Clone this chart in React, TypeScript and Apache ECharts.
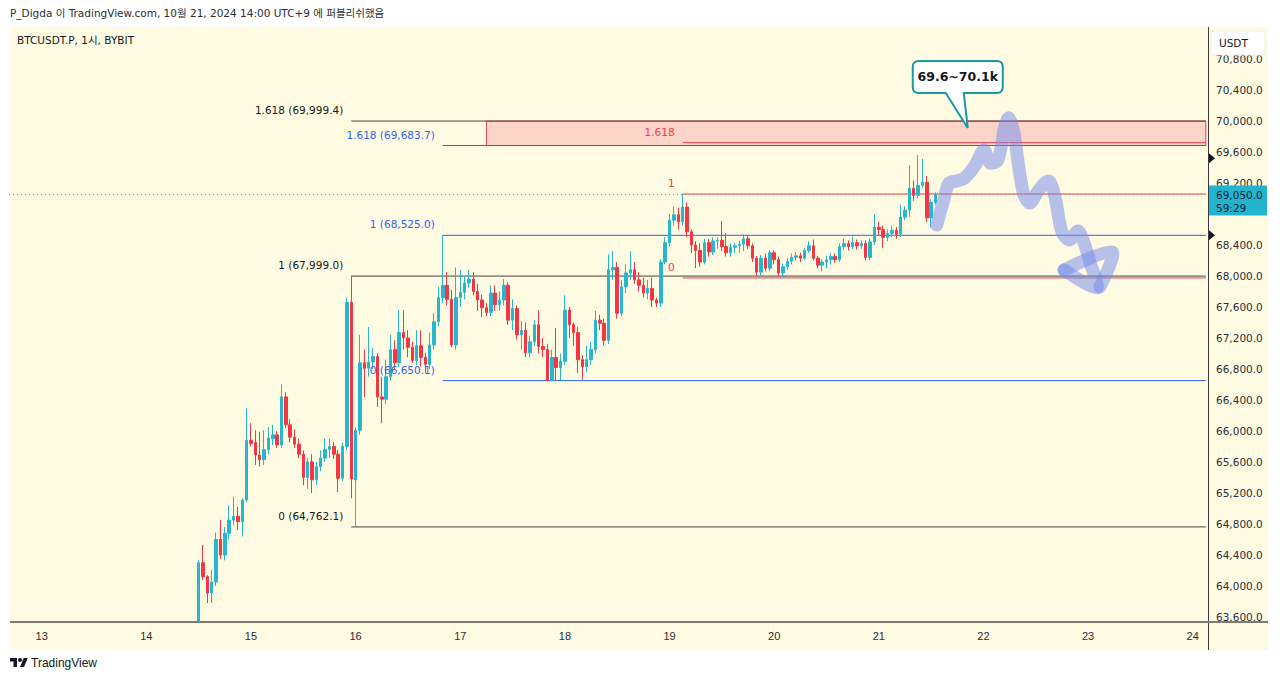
import React, { useEffect, useRef } from "react";
import * as echarts from "echarts";

// ---------- data ----------
// hours are counted from Oct 13 00:00 (UTC+9)
const START_HOUR = -7;
const END_HOUR = 267;
const FIRST_CANDLE_HOUR = 36;

// [open, close, low, high]
const oct14 = [
  [63540, 64300, 63540, 64330], [64300, 64120, 64080, 64530], [64120, 63910, 63780, 64140],
  [63910, 64050, 63780, 64210], [64050, 64600, 64000, 64690], [64600, 64400, 64350, 64850],
  [64400, 64680, 64330, 64760], [64680, 64850, 64600, 65040], [64850, 64900, 64780, 65150],
  [64900, 64830, 64720, 65020], [64830, 65110, 64640, 65130], [65110, 65880, 65080, 66290],
];
const oct15 = [
  [65880, 65840, 65800, 66100], [65850, 65690, 65560, 66010], [65690, 65630, 65540, 65990],
  [65630, 65760, 65560, 66010], [65760, 65910, 65700, 66050], [65900, 65950, 65820, 66080],
  [65950, 65820, 65780, 66000], [65820, 66440, 65780, 66600], [66440, 66080, 66040, 66500],
  [66080, 65920, 65850, 66150], [65920, 65830, 65780, 66020], [65830, 65700, 65650, 65900],
  [65700, 65400, 65300, 65750], [65400, 65600, 65250, 65650], [65600, 65370, 65200, 65700],
  [65370, 65540, 65300, 65600], [65540, 65650, 65480, 65750], [65650, 65760, 65600, 65900],
  [65760, 65800, 65650, 65900], [65800, 65700, 65640, 65860], [65700, 65390, 65210, 65760],
  [65390, 65800, 65350, 65850], [65800, 67660, 65750, 67720], [67660, 65380, 65130, 67999],
];
const oct16 = [
  [65370, 66010, 64762.1, 66050], [66010, 66880, 65950, 67240], [66880, 66810, 66440, 67050],
  [66810, 66890, 66700, 67340], [66890, 66960, 66800, 67070], [66960, 66440, 66310, 67000],
  [66440, 66410, 66100, 66700], [66410, 66700, 66350, 66920], [66700, 67050, 66650, 67240],
  [67050, 66880, 66800, 67170], [66880, 67270, 66820, 67560], [67270, 67200, 67050, 67560],
  [67200, 67080, 66950, 67300], [67080, 66910, 66880, 67150], [66910, 67100, 66850, 67300],
  [67100, 66950, 66830, 67300], [66950, 66860, 66750, 67010], [66860, 67110, 66800, 67270],
  [67110, 67410, 67050, 67520], [67410, 67720, 67350, 67860], [67720, 67880, 67650, 68525],
  [67880, 67700, 67620, 68050], [67700, 67110, 67080, 67820], [67110, 67720, 67050, 68110],
];
const oct17 = [
  [67720, 67790, 67600, 68080], [67790, 67910, 67700, 68000], [67910, 67960, 67850, 68080],
  [67960, 67800, 67750, 68050], [67800, 67690, 67550, 67900], [67690, 67590, 67470, 67760],
  [67590, 67530, 67480, 67650], [67530, 67780, 67480, 67880], [67780, 67630, 67550, 67880],
  [67630, 67690, 67550, 67800], [67690, 67880, 67620, 67960], [67880, 67430, 67370, 67920],
  [67430, 67580, 67300, 67700], [67580, 67240, 67180, 67620], [67240, 67300, 67050, 67420],
  [67300, 67010, 66950, 67400], [67010, 67150, 66950, 67230], [67150, 67370, 67100, 67430],
  [67370, 67090, 67000, 67560], [67090, 67050, 66950, 67200], [67050, 66650, 66640, 67120],
  [66650, 66950, 66640, 67050], [66950, 66820, 66650, 67330], [66820, 66900, 66650, 67000],
];
const oct18 = [
  [66900, 67560, 66850, 67750], [67560, 67370, 67200, 67600], [67370, 67270, 67100, 67400],
  [67270, 66920, 66750, 67340], [66920, 66830, 66660, 66980], [66830, 66920, 66760, 67100],
  [66920, 67050, 66850, 67150], [67050, 67430, 67000, 67550], [67430, 67390, 67300, 67500],
  [67390, 67170, 67100, 67450], [67170, 68080, 67120, 68280], [68080, 68110, 67950, 68320],
  [68110, 67520, 67450, 68180], [67520, 67860, 67480, 67950], [67860, 68040, 67780, 68150],
  [68040, 68080, 67950, 68320], [68080, 67950, 67900, 68180], [67950, 67880, 67800, 68050],
  [67880, 67780, 67720, 67980], [67780, 67840, 67700, 67950], [67840, 67690, 67600, 67980],
  [67690, 67650, 67600, 67720], [67650, 68180, 67600, 68220], [68180, 68430, 68150, 68500],
];
const oct19 = [
  [68430, 68720, 68380, 68800], [68720, 68790, 68650, 68900], [68790, 68700, 68600, 68880],
  [68700, 68890, 68650, 69060], [68890, 68570, 68500, 68950], [68570, 68400, 68300, 68600],
  [68400, 68330, 68100, 68450], [68330, 68180, 68120, 68420], [68180, 68430, 68150, 68480],
  [68430, 68310, 68250, 68480], [68310, 68450, 68270, 68500], [68450, 68460, 68350, 68500],
  [68460, 68380, 68320, 68710], [68380, 68300, 68250, 68550], [68300, 68370, 68250, 68420],
  [68370, 68390, 68300, 68430], [68390, 68410, 68300, 68450], [68410, 68480, 68320, 68540],
  [68480, 68390, 68350, 68520], [68390, 68230, 68180, 68420], [68230, 68050, 68000, 68260],
  [68050, 68230, 68010, 68270], [68230, 68100, 68060, 68290], [68100, 68300, 68060, 68330],
];
const oct20 = [
  [68300, 68210, 68150, 68330], [68210, 68040, 67990, 68250], [68040, 68120, 67990, 68160],
  [68120, 68190, 68080, 68230], [68190, 68240, 68150, 68290], [68240, 68260, 68200, 68310],
  [68260, 68230, 68180, 68300], [68230, 68330, 68200, 68360], [68330, 68390, 68300, 68450],
  [68390, 68230, 68200, 68470], [68230, 68140, 68100, 68260], [68140, 68180, 68060, 68220],
  [68180, 68210, 68100, 68260], [68210, 68250, 68150, 68300], [68250, 68210, 68170, 68290],
  [68210, 68380, 68180, 68420], [68380, 68420, 68330, 68480], [68420, 68380, 68330, 68460],
  [68380, 68430, 68350, 68510], [68430, 68390, 68340, 68470], [68390, 68420, 68350, 68460],
  [68420, 68240, 68200, 68460], [68240, 68440, 68200, 68480], [68440, 68630, 68400, 68800],
];
const oct21 = [
  [68630, 68600, 68520, 68700], [68600, 68500, 68360, 68650], [68500, 68550, 68450, 68600],
  [68550, 68590, 68500, 68650], [68590, 68540, 68480, 68630], [68540, 68760, 68500, 68920],
  [68760, 68850, 68720, 68900], [68850, 69130, 68760, 69430], [69130, 69040, 68970, 69230],
  [69040, 69170, 69000, 69560], [69170, 69210, 69130, 69510], [69210, 68750, 68700, 69290],
  [68750, 68950, 68630, 68990], [68950, 69050, 68920, 69080],
];
const candles = [...oct14, ...oct15, ...oct16, ...oct17, ...oct18, ...oct19, ...oct20, ...oct21];

// 68,800.0 sits under the last-price tag in the reference, so it is not drawn
const priceTicks = [63600, 64000, 64400, 64800, 65200, 65600, 66000, 66400, 66800, 67200,
  67600, 68000, 68400, 69200, 69600, 70000, 70400, 70800];
const lastPrice = 69050.0;
const countdown = "59:29";

const blackFibLevels = [64762.1, 67999.0, 69999.4];
const blackFibNames = ["0", "1", "1.618"];
const blackFibStart = 71;
const blueFibLevels = [66650.1, 68525.0, 69683.7];
const blueFibNames = ["0", "1", "1.618"];
const blueFibStart = 92;
const redFibLevels = [67975.0, 69058.0, 69721.0];
const redFibNames = ["0", "1", "1.618"];
const redFibStart = 147;
const zoneStart = 102;
const zoneLow = 69683.7;
const zoneHigh = 69999.4;
const alertLevels = [69520, 68525];

// hand-drawn projection: [hour, price]
const projectionA = [
  [205.3, 68658], [206.9, 68981], [208.1, 69200], [209.9, 69226], [211.7, 69265],
  [214.0, 69420], [216.1, 69626], [217.5, 69458], [219.3, 69497], [220.9, 69923],
  [221.8, 70039], [223.0, 69845], [224.1, 69407], [225.3, 69045], [226.7, 68942],
  [228.7, 69110], [231.0, 69226], [232.4, 69020], [234.0, 68568], [235.8, 68465],
  [237.7, 68581], [239.1, 68426], [240.4, 68181], [242.0, 67846], [234.5, 68078],
];
const projectionB = [[234.5, 68078], [245.5, 68310], [242.7, 67859]];
const calloutTip = [212.4, 69910];
const calloutText = "69.6~70.1k";

// ---------- helpers ----------
const categories: string[] = [];
for (let h = START_HOUR; h <= END_HOUR; h++) {
  const d = new Date(Date.UTC(2024, 9, 13) + h * 3600000);
  categories.push(`${d.getUTCDate()}|${d.getUTCHours()}`);
}
const catOf = (h: number) => categories[h - START_HOUR];
const fmt = (v: number) =>
  v.toLocaleString("en-US", { minimumFractionDigits: 1, maximumFractionDigits: 1 });

const FONT = "'DejaVu Sans', 'Noto Sans CJK KR', sans-serif";
const UP = "#27b6cf";
const DOWN = "#f23645";
const BLACK_LINE = "#45443e";
const BLUE = "#2f62f0";
const RED = "#ef3e4f";

const CALLOUT_D = "M6 0H84Q90 0 90 6V26Q90 32 84 32H51L55 67L33 32H6Q0 32 0 26V6Q0 0 6 0Z";
const TV_D = "M14 22H7V11H0V4h14v18zM28 22h-8l7.5-18h8L28 22zM24 8a4 4 0 1 1-8 0a4 4 0 1 1 8 0z";
echarts.graphic.registerShape("callout", echarts.graphic.extendPath(CALLOUT_D, {}));
echarts.graphic.registerShape("tvlogo", echarts.graphic.extendPath(TV_D, {}));

function fibSeries(levels: number[], start: number, color: string) {
  return levels.map((lv) => ({
    type: "line",
    silent: true,
    symbol: "none",
    lineStyle: { color, width: 1 },
    data: [[catOf(start), lv], [catOf(END_HOUR), lv]],
    z: 1,
  }));
}

function txt(x: number, y: number, text: string, fill: string, size: number, align = "left", weight = "normal", family = FONT) {
  return {
    type: "text",
    x, y, z: 100, silent: true,
    style: {
      text, fill, fontSize: size, fontFamily: family, fontWeight: weight,
      align, verticalAlign: "middle", textAlign: align, textVerticalAlign: "middle",
    },
  };
}

export default function App() {
  const ref = useRef<HTMLDivElement>(null);
  useEffect(() => {
    const chart = echarts.init(ref.current!, null, { renderer: "svg" });
    const candleData = categories.map((_, i) => {
      const k = i + START_HOUR - FIRST_CANDLE_HOUR;
      return k >= 0 && k < candles.length ? candles[k] : "-";
    });
    const option: any = {
      animation: false,
      backgroundColor: "#ffffff",
      grid: { left: 9, right: 72, top: 27, bottom: 59 },
      xAxis: {
        type: "category",
        data: categories,
        boundaryGap: true,
        axisLine: { show: false },
        axisTick: { show: false },
        splitLine: { show: false },
        axisLabel: {
          interval: (_i: number, v: string) => v.endsWith("|0"),
          formatter: (v: string) => v.split("|")[0],
          color: "#2a2e39",
          fontSize: 11,
          fontFamily: "'Liberation Sans Narrow', 'Liberation Sans', sans-serif",
          margin: 8,
        },
      },
      yAxis: {
        type: "value",
        position: "right",
        min: 63535,
        max: 71213,
        splitLine: { show: false },
        axisLine: { show: false },
        axisTick: { show: false },
        axisLabel: {
          customValues: priceTicks,
          formatter: (v: number) => fmt(v),
          color: "#2a2e39",
          fontSize: 10.5,
          fontFamily: FONT,
          margin: 8,
        },
      },
      series: [
        ...fibSeries(blackFibLevels, blackFibStart, BLACK_LINE),
        ...fibSeries(blueFibLevels, blueFibStart, BLUE),
        ...fibSeries(redFibLevels, redFibStart, RED),
        {
          type: "line",
          silent: true,
          symbol: "none",
          data: [],
          markArea: {
            silent: true,
            itemStyle: { color: "rgba(240,60,95,0.2)", borderColor: RED, borderWidth: 1 },
            data: [[{ xAxis: catOf(zoneStart), yAxis: zoneLow }, { xAxis: catOf(END_HOUR), yAxis: zoneHigh }]],
          },
        },
        {
          type: "candlestick",
          data: candleData,
          barWidth: 3,
          clip: true,
          z: 5,
          itemStyle: { color: UP, color0: DOWN, borderColor: UP, borderColor0: DOWN, borderWidth: 1 },
          markLine: {
            silent: true,
            symbol: ["none", "none"],
            label: { show: false },
            lineStyle: { color: UP, type: [1, 3], width: 1 },
            data: [{ yAxis: lastPrice }],
          },
        },
      ],
    };
    chart.setOption(option);

    const xi = (i: number) => chart.convertToPixel({ xAxisIndex: 0 } as any, i) as unknown as number;
    const X = (h: number) => {
      const i = h - START_HOUR;
      const i0 = Math.floor(i);
      const a = xi(i0);
      const b = xi(i0 + 1);
      return a + (b - a) * (i - i0);
    };
    const Y = (p: number) => chart.convertToPixel({ yAxisIndex: 0 } as any, p) as unknown as number;

    const g: any[] = [];
    // panel background
    g.push({ type: "rect", z: -10, silent: true, shape: { x: 10, y: 27, width: 1258, height: 623 }, style: { fill: "#fffbe3" } });
    g.push({ type: "line", z: 100, silent: true, shape: { x1: 1208.5, y1: 27, x2: 1208.5, y2: 650 }, style: { stroke: "#3a3a3a", lineWidth: 1 } });
    g.push({ type: "line", z: 100, silent: true, shape: { x1: 10, y1: 622, x2: 1268, y2: 622 }, style: { stroke: "#7d7b70", lineWidth: 2 } });
    // header
    g.push(txt(10, 13, "P_Digda 이 TradingView.com, 10월 21, 2024 14:00 UTC+9 에 퍼블리쉬했음", "#2a2e39", 10.5));
    g.push(txt(17, 40, "BTCUSDT.P, 1시, BYBIT", "#131722", 10.5));
    // USDT box
    g.push({ type: "rect", z: 100, silent: true, shape: { x: 1211, y: 31, width: 54, height: 24, r: 4 }, style: { fill: "#ffffff", stroke: "#f0eee4", lineWidth: 1 } });
    g.push(txt(1219, 43, "USDT", "#131722", 10.5));
    // fib labels
    const fibLabels = (levels: number[], names: string[], start: number, color: string, withValue: boolean) => {
      levels.forEach((lv, k) => {
        const t = withValue ? `${names[k]} (${fmt(lv)})` : `${names[k]}`;
        g.push(txt(X(start) - 8, Y(lv) - 11, t, color, 10.5, "right"));
      });
    };
    fibLabels(blackFibLevels, blackFibNames, blackFibStart, "#131722", true);
    fibLabels(blueFibLevels, blueFibNames, blueFibStart, BLUE, true);
    fibLabels(redFibLevels, redFibNames, redFibStart, RED, false);
    // projection strokes
    const stroke = { stroke: "rgba(112,136,238,0.5)", lineWidth: 13, lineCap: "round", lineJoin: "round", fill: null };
    g.push({ type: "polyline", z: 90, silent: true, shape: { points: projectionA.map(([h, p]) => [X(h), Y(p)]), smooth: 0.3 }, style: stroke });
    g.push({ type: "polyline", z: 91, silent: true, shape: { points: projectionB.map(([h, p]) => [X(h), Y(p)]), smooth: 0.3 }, style: stroke });
    // callout
    const tx = X(calloutTip[0]);
    const ty = Y(calloutTip[1]);
    g.push({ type: "callout", z: 95, silent: true, x: tx - 55, y: ty - 67, style: { fill: "#ffffff", stroke: "#1a9aa2", lineWidth: 2 } });
    g.push(txt(tx - 55 + 45, ty - 67 + 16, calloutText, "#131722", 12.5, "center", "bold"));
    // last price tag
    const ly = Y(lastPrice);
    g.push({ type: "rect", z: 100, silent: true, shape: { x: 1209, y: ly - 9, width: 58, height: 30 }, style: { fill: "#22b3cf" } });
    g.push(txt(1216, ly, fmt(lastPrice), "#0f2230", 10.5));
    g.push(txt(1216, ly + 13, countdown, "#0f2230", 10.5));
    // alert markers
    alertLevels.forEach((lv) => {
      const y = Y(lv);
      g.push({ type: "polygon", z: 100, silent: true, shape: { points: [[1209, y - 5], [1215, y], [1209, y + 5]] }, style: { fill: "#131722" } });
    });
    // footer logo
    g.push({ type: "tvlogo", z: 100, silent: true, x: 10, y: 656, scaleX: 0.5, scaleY: 0.5, style: { fill: "#131722" } });
    g.push(txt(31, 663, "TradingView", "#131722", 12, "left", "normal", "'Liberation Sans Narrow', 'Liberation Sans', sans-serif"));

    chart.setOption({ graphic: { elements: g } });
    return () => chart.dispose();
  }, []);
  return <div ref={ref} style={{ position: "absolute", left: 0, top: 0, width: 1280, height: 681 }} />;
}
